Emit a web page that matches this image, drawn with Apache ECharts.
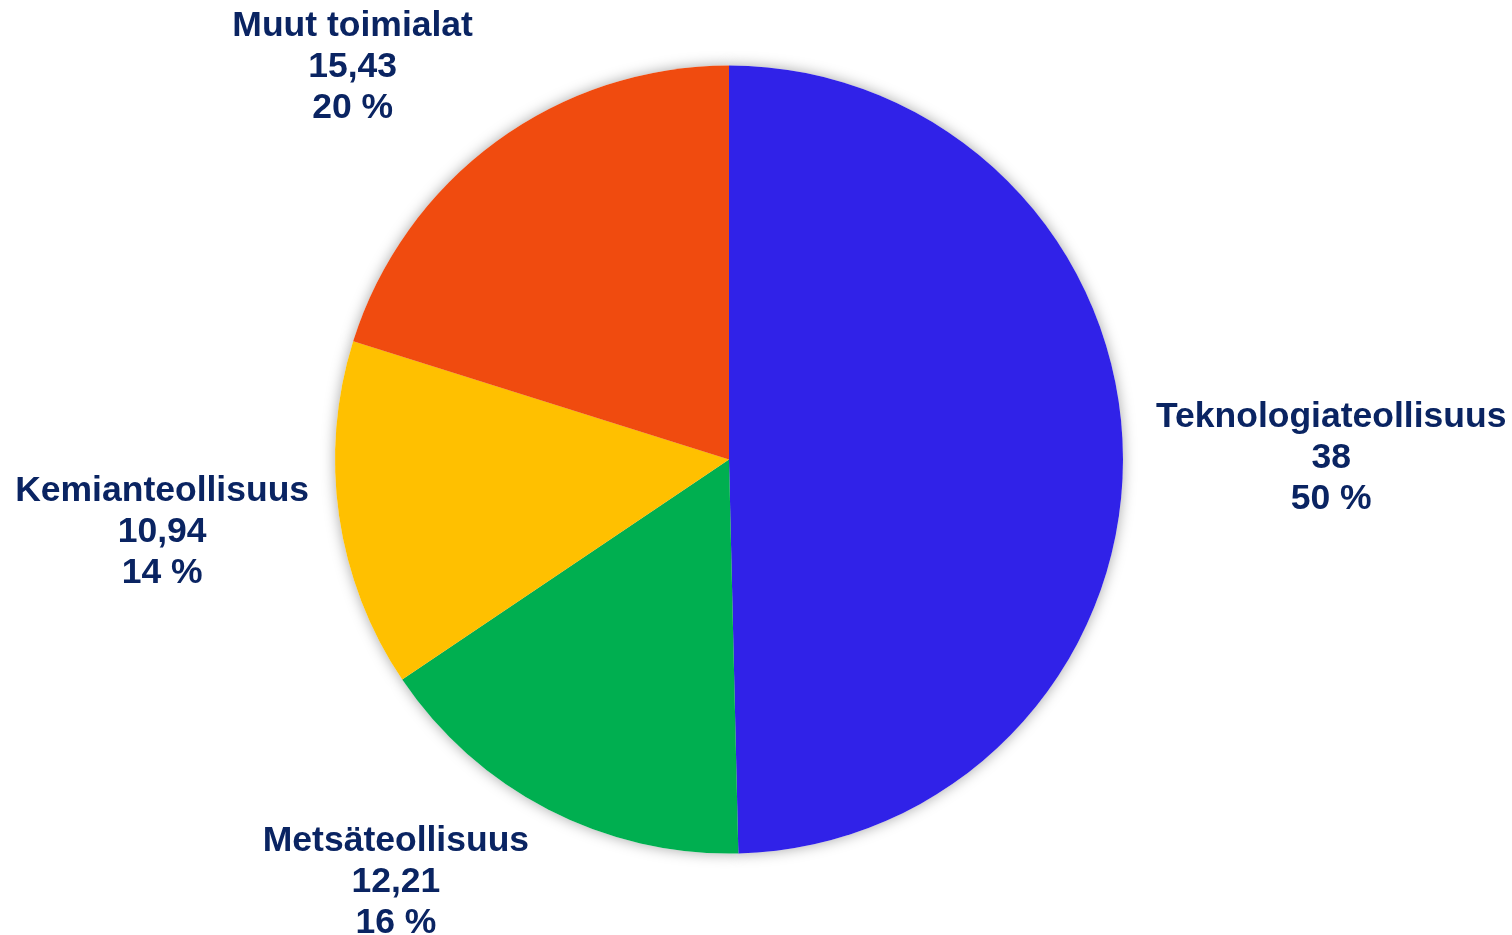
<!DOCTYPE html>
<html>
<head>
<meta charset="utf-8">
<script src="https://cdn.jsdelivr.net/npm/echarts@6/dist/echarts.min.js"></script>
<style>
html,body{margin:0;padding:0;background:#fff;}
#c{width:1512px;height:935px;}
</style>
</head>
<body>
<div id="c"></div>
<script>
const categories = ['Teknologiateollisuus', 'Metsäteollisuus', 'Kemianteollisuus', 'Muut toimialat'];
const values = [38, 12.21, 10.94, 15.43];
const colors = ['#3022E8', '#00AF50', '#FFC000', '#F04B0F'];

const chart = echarts.init(document.getElementById('c'));
const labelShift = [[28, 3], [-14, 73], [-25, 16], [-18, -75]];
const dataItems = categories.map((n, i) => ({ name: n, value: values[i], itemStyle: { color: colors[i] } }));

chart.setOption({
  animation: false,
  backgroundColor: '#fff',
  series: [
    {
      type: 'pie',
      silent: true,
      center: [729, 459.5],
      radius: [0, 394],
      startAngle: 90,
      data: categories.map((n, i) => ({ name: n, value: values[i] })),
      itemStyle: { color: '#fff', shadowBlur: 14, shadowColor: 'rgba(0,0,0,0.35)', borderWidth: 0 },
      label: { show: false },
      labelLine: { show: false },
      z: 1
    },
    {
      type: 'pie',
      center: [729, 459.5],
      radius: [0, 394],
      startAngle: 90,
      percentPrecision: 0,
      data: dataItems,
      itemStyle: { borderWidth: 0 },
      label: {
        show: true,
        position: 'outside',
        distanceToLabelLine: 5,
        formatter: p => '{c|' + p.name + '}\n{c|' + String(p.value).replace('.', ',') + '}\n{c|' + p.percent + ' %}',
        rich: {
          c: {
            align: 'center',
            fontFamily: 'Liberation Sans, Arial, sans-serif',
            fontWeight: 'bold',
            fontSize: 35.5,
            lineHeight: 41,
            color: '#0A2462'
          }
        }
      },
      labelLine: { show: false, length: 0, length2: 0 },
      labelLayout: p => ({ dx: labelShift[p.dataIndex][0], dy: labelShift[p.dataIndex][1] }),
      emphasis: { disabled: true },
      z: 2
    }
  ]
});
</script>
</body>
</html>
